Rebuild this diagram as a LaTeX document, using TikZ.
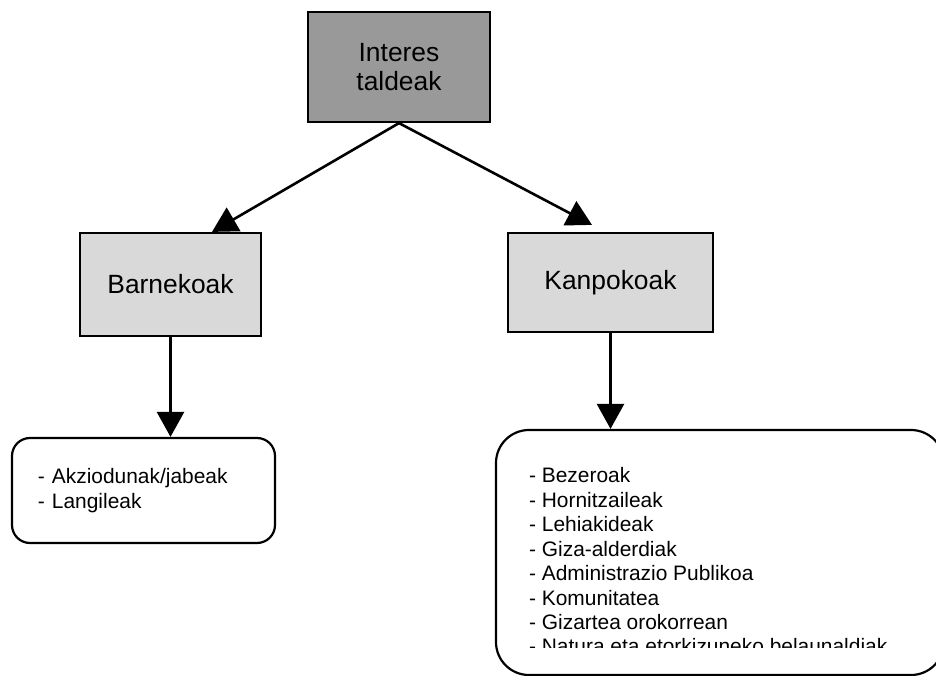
\documentclass[tikz,border=0pt]{standalone}
\usepackage{fontspec}
\setmainfont{Liberation Sans}
\usetikzlibrary{arrows.meta}
\definecolor{topfill}{RGB}{153,153,153}
\definecolor{groupfill}{RGB}{217,217,217}

\begin{document}
\begin{tikzpicture}[x=1bp, y=-1bp]
\tikzset{box style/.style={shape=rectangle, draw=black, line width=2.2bp, inner sep=0pt, align=center, font=\fontsize{26.5}{30}\selectfont},
         list style/.style={shape=rectangle, draw=black, line width=2.2bp, align=left, font=\fontsize{21}{24.5}\selectfont},
         arrow style/.style={line width=2.6bp, -{Triangle[length=25bp, width=27bp]}}}

\clip (0,0) rectangle (936,676);

\node[box style, fill=topfill, minimum width=182bp, minimum height=110bp] at (399, 67)      (top)      {Interes\\taldeak};
\node[box style, fill=groupfill, minimum width=181bp, minimum height=103bp] at (170.5, 284.5) (barne) {Barnekoak};
\node[box style, fill=groupfill, minimum width=205bp, minimum height=99bp] at (610.5, 282.5) (kanpo) {Kanpokoak};

\node[list style, rounded corners=18bp, inner xsep=26bp, inner ysep=0pt, text width=211bp, minimum height=105bp] at (143.5, 490.5) (barnelist) {- Akziodunak/jabeak\\- Langileak};
\node[list style, rounded corners=33bp, minimum width=448bp, minimum height=245bp] at (720, 552.5) (kanpolist) {};

\begin{scope}
\clip (kanpolist.north west) rectangle (944, 647);
\node[list style, draw=none, inner sep=0pt, anchor=north west] at (528, 466.7) (kanpotext)
     {- Bezeroak\\- Hornitzaileak\\- Lehiakideak\\- Giza-alderdiak\\- Administrazio Publikoa\\- Komunitatea\\- Gizartea orokorrean\\- Natura eta etorkizuneko belaunaldiak};
\end{scope}

\draw[arrow style] (top.south)   -- ([xshift=41.5bp]barne.north);
\draw[arrow style] (top.south)   -- ([xshift=-18.5bp, yshift=7bp]kanpo.north);
\draw[arrow style] (barne.south) -- (barne.south |- barnelist.north);
\draw[arrow style] (kanpo.south) -- (kanpo.south |- kanpolist.north);
\end{tikzpicture}
\end{document}
